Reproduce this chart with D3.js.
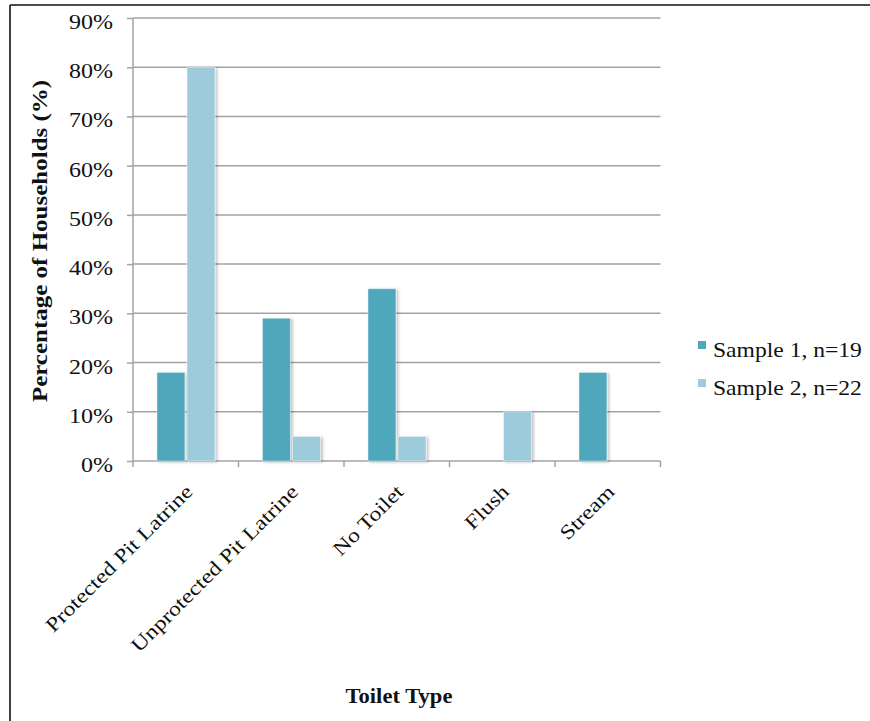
<!DOCTYPE html>
<html>
<head>
<meta charset="utf-8">
<script src="https://cdn.jsdelivr.net/npm/d3@7"></script>
<style>
  html, body { margin: 0; padding: 0; background: #fff; }
  svg text { font-family: "Liberation Serif", "Times New Roman", serif; fill: #111; }
</style>
</head>
<body>
<svg id="chart" width="870" height="721"></svg>
<script>
// Toilet types surveyed and share of households per sample
const categories = ["Protected Pit Latrine", "Unprotected Pit Latrine", "No Toilet", "Flush", "Stream"];
const seriesNames = ["Sample 1, n=19", "Sample 2, n=22"];
const sample1 = [0.18, 0.29, 0.35, 0.00, 0.18];
const sample2 = [0.80, 0.05, 0.05, 0.10, 0.00];
const yTicks = [0, 0.1, 0.2, 0.3, 0.4, 0.5, 0.6, 0.7, 0.8, 0.9];
const colors = ["#4fa7bb", "#9dcbdb"];

const svg = d3.select("#chart");
const SX = 1.2; // horizontal stretch of the serif glyphs

// frame lines (top and left)
svg.append("line").attr("x1", 10).attr("x2", 870).attr("y1", 5).attr("y2", 5)
  .attr("stroke", "#111").attr("stroke-width", 1.6);
svg.append("line").attr("x1", 10).attr("x2", 10).attr("y1", 5).attr("y2", 721)
  .attr("stroke", "#111").attr("stroke-width", 1.6);

const plot = { left: 133, right: 660.5, top: 18, bottom: 461 };

const x0 = d3.scaleBand().domain(categories).range([plot.left, plot.right]).padding(0);
const bw = x0.bandwidth();
const x1 = d3.scaleBand().domain(seriesNames).range([bw * 0.227, bw * 0.777]).paddingInner(0.07);
const y = d3.scaleLinear().domain([0, 0.9]).range([plot.bottom, plot.top]);

// soft drop shadow under bars
const defs = svg.append("defs");
const f = defs.append("filter").attr("id", "shadow").attr("x", "-20%").attr("y", "-20%")
  .attr("width", "150%").attr("height", "150%");
f.append("feDropShadow").attr("dx", 2).attr("dy", 1).attr("stdDeviation", 1.4)
  .attr("flood-color", "#000").attr("flood-opacity", 0.25);

const gridColor = "#a3a3a3";

// horizontal gridlines
svg.append("g").selectAll("line").data(yTicks.slice(1)).join("line")
  .attr("x1", plot.left).attr("x2", plot.right)
  .attr("y1", d => y(d)).attr("y2", d => y(d))
  .attr("stroke", gridColor).attr("stroke-width", 1.5);

// y axis
const yAxis = svg.append("g").attr("transform", `translate(${plot.left},0)`)
  .call(d3.axisLeft(y).tickValues(yTicks).tickFormat(d3.format(".0%")).tickSize(6).tickPadding(0));
yAxis.select(".domain").attr("stroke", gridColor).attr("stroke-width", 1.5)
  .attr("d", `M0,${plot.top}V${plot.bottom}`);
yAxis.selectAll(".tick line").attr("stroke", gridColor).attr("stroke-width", 1.5);
yAxis.selectAll(".tick text")
  .attr("x", 0).attr("dy", null).attr("y", 0)
  .attr("transform", `translate(-20,10.5) scale(${SX},1)`)
  .style("font-size", "20px").attr("fill", "#111");

// x axis (ticks at category boundaries)
const xb = svg.append("g").attr("transform", `translate(0,${plot.bottom})`);
xb.append("line").attr("x1", plot.left).attr("x2", plot.right)
  .attr("stroke", gridColor).attr("stroke-width", 1.5);
const bounds = categories.map(c => x0(c)).concat([x0(categories[categories.length - 1]) + bw]);
xb.selectAll("line.tk").data(bounds).join("line").attr("class", "tk")
  .attr("x1", d => d).attr("x2", d => d).attr("y1", 0).attr("y2", 6)
  .attr("stroke", gridColor).attr("stroke-width", 1.5);

// bars
const rows = categories.map((c, i) => ({ cat: c, vals: [sample1[i], sample2[i]] }));
const groups = svg.append("g").selectAll("g").data(rows).join("g")
  .attr("transform", d => `translate(${x0(d.cat)},0)`);
groups.selectAll("rect").data(d => d.vals.map((v, j) => ({ s: seriesNames[j], v, j })).filter(e => e.v > 0))
  .join("rect")
  .attr("x", d => x1(d.s)).attr("width", x1.bandwidth())
  .attr("y", d => y(d.v)).attr("height", d => y(0) - y(d.v))
  .attr("fill", d => colors[d.j])
  .attr("stroke", "#ffffff").attr("stroke-opacity", 0.45).attr("stroke-width", 1)
  .attr("filter", "url(#shadow)");

// category labels, rotated
svg.append("g").selectAll("text").data(categories).join("text")
  .attr("transform", d => `translate(${x0(d) + bw / 2 + 8},493) rotate(-45) scale(${SX},1)`)
  .attr("text-anchor", "end")
  .style("font-size", "20px")
  .text(d => d);

// axis titles
svg.append("text")
  .attr("transform", `translate(399,703) scale(1.13,1)`)
  .attr("text-anchor", "middle").style("font-size", "20px").style("font-weight", "bold")
  .text("Toilet Type");
svg.append("text")
  .attr("transform", `translate(47,241) rotate(-90) scale(1.19,1)`)
  .attr("text-anchor", "middle").style("font-size", "21px").style("font-weight", "bold")
  .text("Percentage of Households (%)");

// legend
const legend = svg.append("g").selectAll("g").data(seriesNames).join("g")
  .attr("transform", (d, i) => `translate(698,${341 + i * 38})`);
legend.append("rect").attr("width", 8).attr("height", 8).attr("fill", (d, i) => colors[i]);
legend.append("text")
  .attr("transform", `translate(15,16) scale(1.18,1)`)
  .style("font-size", "20px")
  .text(d => d);
</script>
</body>
</html>
